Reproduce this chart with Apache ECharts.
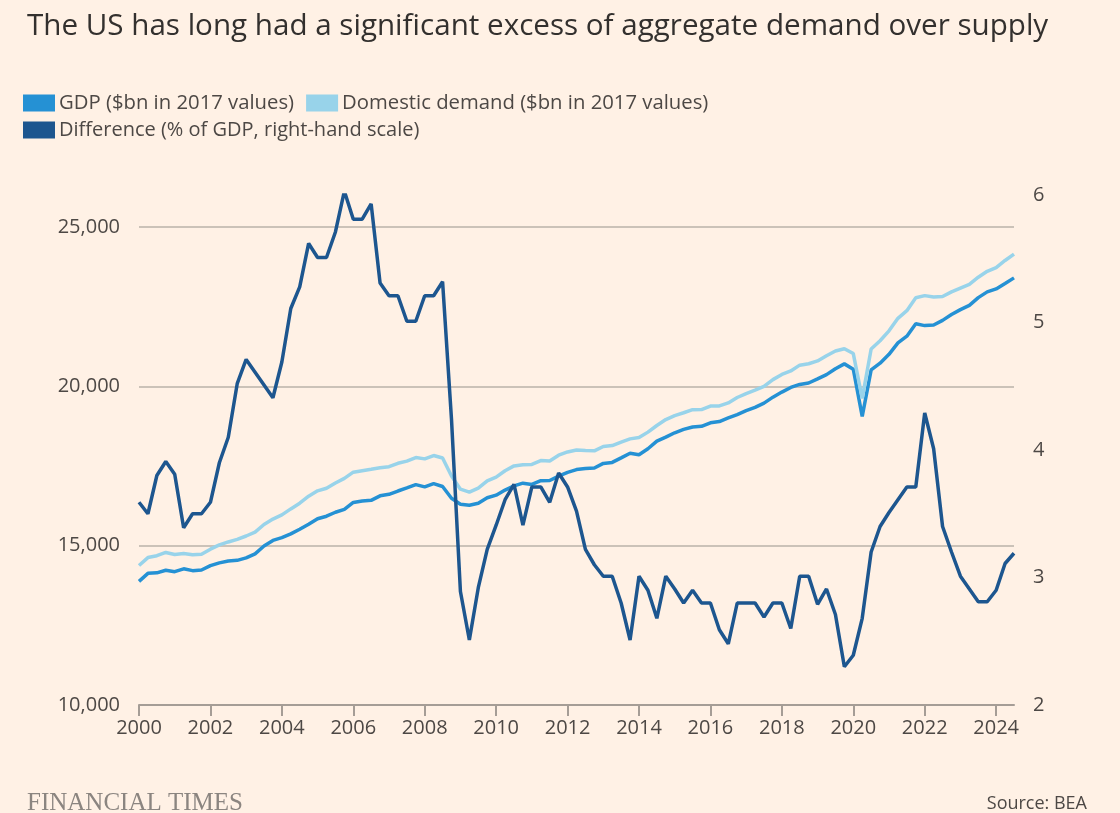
<!DOCTYPE html>
<html>
<head>
<meta charset="utf-8">
<script src="https://cdn.jsdelivr.net/npm/echarts@6/dist/echarts.min.js"></script>
<style>
  html, body { margin: 0; padding: 0; background: #fff1e5; }
  #chart { width: 1120px; height: 813px; }
</style>
</head>
<body>
<div id="chart"></div>
<script>
// Quarters 2000 Q1 .. 2024 Q3
const quarters = [];
for (let y = 2000; y <= 2024; y++) {
  for (let q = 1; q <= 4; q++) {
    if (y === 2024 && q > 3) break;
    quarters.push(y + ' Q' + q);
  }
}

// GDP, $bn in 2017 values
const gdp = [
  13878, 14130, 14146, 14229, 14183, 14272, 14215, 14234,
  14372, 14460, 14520, 14538, 14614, 14743, 14988, 15163,
  15249, 15367, 15512, 15671, 15845, 15923, 16047, 16136,
  16354, 16397, 16420, 16562, 16611, 16713, 16810, 16915,
  16844, 16943, 16854, 16485, 16299, 16269, 16327, 16502,
  16583, 16744, 16872, 16960, 16920, 17036, 17042, 17180,
  17297, 17386, 17420, 17434, 17580, 17610, 17753, 17900,
  17852, 18038, 18279, 18402, 18540, 18646, 18723, 18743,
  18852, 18893, 19006, 19112, 19232, 19336, 19470, 19658,
  19817, 19962, 20058, 20102, 20230, 20364, 20551, 20702,
  20535, 19056, 20511, 20724, 21001, 21360, 21571, 21960,
  21903, 21920, 22066, 22249, 22404, 22539, 22780, 22961,
  23054, 23224, 23400
];

// Domestic demand, $bn in 2017 values
const domesticDemand = [
  14376, 14625, 14684, 14785, 14723, 14756, 14713, 14732,
  14888, 15024, 15115, 15195, 15302, 15423, 15664, 15832,
  15964, 16152, 16331, 16552, 16718, 16800, 16963, 17109,
  17304, 17350, 17394, 17441, 17476, 17584, 17652, 17762,
  17722, 17826, 17751, 17184, 16770, 16677, 16804, 17033,
  17148, 17348, 17501, 17538, 17548, 17668, 17654, 17836,
  17939, 17998, 17981, 17974, 18109, 18140, 18250, 18349,
  18389, 18561, 18769, 18956, 19080, 19168, 19266, 19268,
  19380, 19382, 19477, 19647, 19770, 19877, 19994, 20208,
  20372, 20481, 20662, 20707, 20794, 20957, 21108, 21178,
  21026, 19620, 21167, 21429, 21738, 22131, 22371, 22775,
  22843, 22799, 22816, 22961, 23078, 23195, 23420, 23606,
  23723, 23946, 24146
];

// Difference, % of GDP (right-hand scale)
const difference = [
  3.59, 3.50, 3.80, 3.91, 3.81, 3.39, 3.50, 3.50,
  3.59, 3.90, 4.10, 4.52, 4.71, 4.61, 4.51, 4.41,
  4.69, 5.11, 5.28, 5.62, 5.51, 5.51, 5.71, 6.03,
  5.81, 5.81, 5.93, 5.31, 5.21, 5.21, 5.01, 5.01,
  5.21, 5.21, 5.32, 4.24, 2.89, 2.51, 2.92, 3.22,
  3.41, 3.61, 3.73, 3.41, 3.71, 3.71, 3.59, 3.82,
  3.71, 3.52, 3.22, 3.10, 3.01, 3.01, 2.80, 2.51,
  3.01, 2.90, 2.68, 3.01, 2.91, 2.80, 2.90, 2.80,
  2.80, 2.59, 2.48, 2.80, 2.80, 2.80, 2.69, 2.80,
  2.80, 2.60, 3.01, 3.01, 2.79, 2.91, 2.71, 2.30,
  2.39, 2.68, 3.20, 3.40, 3.51, 3.61, 3.71, 3.71,
  4.29, 4.01, 3.40, 3.20, 3.01, 2.91, 2.81, 2.81,
  2.90, 3.11, 3.19
];

const leftTicks = { min: 10000, max: 26000, interval: 5000 };
const rightTicks = { min: 2, max: 6, interval: 1 };

const FONT = '"Open Sans", "Noto Sans", sans-serif';
const TEXT = '#4d4845';
const colGDP = '#2591d4';
const colDD = '#98d3ea';
const colDiff = '#1d568f';

const chart = echarts.init(document.getElementById('chart'), null, { renderer: 'canvas' });

const isYearTick = (idx) => idx % 8 === 0;

chart.setOption({
  backgroundColor: '#fff1e5',
  animation: false,
  textStyle: { fontFamily: FONT },
  title: [
    {
      text: 'The US has long had a significant excess of aggregate demand over supply',
      left: 22, top: 7,
      textStyle: { fontFamily: FONT, fontSize: 29.6, fontWeight: 'normal', color: '#33302e' }
    },
    {
      text: 'FINANCIAL TIMES',
      left: 22, top: 786,
      textStyle: { fontFamily: '"Liberation Serif", "DejaVu Serif", serif', fontSize: 25, fontWeight: 'normal', color: '#8b8580' }
    },
    {
      text: 'Source: BEA',
      right: 28, top: 790,
      textStyle: { fontFamily: '"Liberation Sans Narrow", "Open Sans", sans-serif', fontSize: 18, fontWeight: 'normal', color: TEXT }
    }
  ],
  legend: [
    {
      data: ['GDP ($bn in 2017 values)', 'Domestic demand ($bn in 2017 values)'],
      left: 23, top: 93, padding: 0,
      itemWidth: 32, itemHeight: 17, itemGap: 12,
      icon: 'rect',
      textStyle: { fontFamily: FONT, fontSize: 20.3, color: TEXT, padding: [0, 0, 0, -1] }
    },
    {
      data: ['Difference (% of GDP, right-hand scale)'],
      left: 23, top: 120, padding: 0,
      itemWidth: 32, itemHeight: 17,
      icon: 'rect',
      textStyle: { fontFamily: FONT, fontSize: 20, color: TEXT, padding: [0, 0, 0, -1] }
    }
  ],
  grid: { left: 139, right: 106, top: 195, bottom: 108, containLabel: false },
  xAxis: {
    type: 'category',
    data: quarters,
    boundaryGap: false,
    axisLine: { show: true, lineStyle: { color: '#a59d96', width: 2 } },
    axisTick: {
      show: true, length: 11, interval: (idx) => isYearTick(idx),
      lineStyle: { color: '#a59d96', width: 2 }
    },
    axisLabel: {
      interval: (idx) => isYearTick(idx),
      formatter: (v) => v.slice(0, 4),
      fontFamily: FONT, fontSize: 20, color: TEXT, margin: 13
    },
    splitLine: { show: false }
  },
  yAxis: [
    {
      type: 'value',
      min: leftTicks.min, max: leftTicks.max, interval: leftTicks.interval,
      position: 'left',
      axisLine: { show: false },
      axisTick: { show: false },
      axisLabel: {
        showMaxLabel: false,
        formatter: (v) => (v % 5000 === 0 ? v.toLocaleString('en-US') : ''),
        fontFamily: FONT, fontSize: 20, color: TEXT, margin: 19
      },
      splitLine: { show: true, showMaxLine: false, showMinLine: false, lineStyle: { color: '#cbc2b8', width: 2 } }
    },
    {
      type: 'value',
      min: rightTicks.min, max: rightTicks.max, interval: rightTicks.interval,
      position: 'right',
      axisLine: { show: false },
      axisTick: { show: false },
      axisLabel: { fontFamily: FONT, fontSize: 20, color: TEXT, margin: 19 },
      splitLine: { show: false }
    }
  ],
  series: [
    {
      name: 'GDP ($bn in 2017 values)',
      type: 'line', yAxisIndex: 0, data: gdp,
      showSymbol: false, symbol: 'none',
      itemStyle: { color: colGDP },
      lineStyle: { color: colGDP, width: 3.5 }
    },
    {
      name: 'Domestic demand ($bn in 2017 values)',
      type: 'line', yAxisIndex: 0, data: domesticDemand,
      showSymbol: false, symbol: 'none',
      itemStyle: { color: colDD },
      lineStyle: { color: colDD, width: 3.5 }
    },
    {
      name: 'Difference (% of GDP, right-hand scale)',
      type: 'line', yAxisIndex: 1, data: difference,
      showSymbol: false, symbol: 'none',
      itemStyle: { color: colDiff },
      lineStyle: { color: colDiff, width: 3.5 }
    }
  ]
});
</script>
</body>
</html>
